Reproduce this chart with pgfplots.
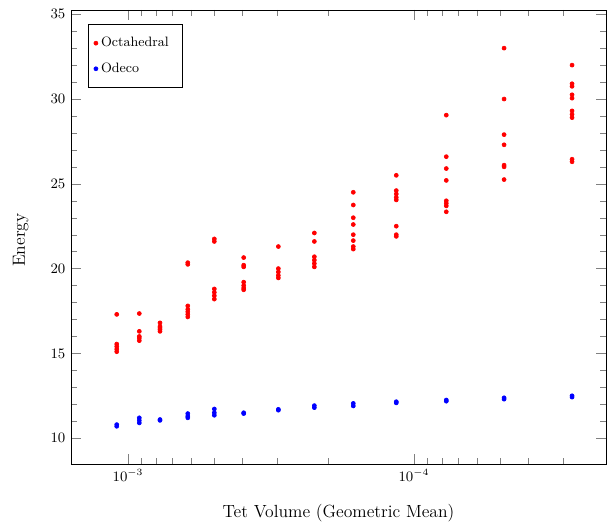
\documentclass[border=0pt]{standalone}
\usepackage{pgfplots}
\usepackage{pgfplotstable}
\pgfplotsset{compat=1.18}

\pgfplotstableread{
x y
1.095e-3 17.3
1.095e-3 15.55
1.095e-3 15.4
1.095e-3 15.25
1.095e-3 15.1
9.13e-4 17.35
9.13e-4 16.3
9.13e-4 16.0
9.13e-4 15.9
9.13e-4 15.75
7.73e-4 16.8
7.73e-4 16.6
7.73e-4 16.5
7.73e-4 16.4
7.73e-4 16.3
6.18e-4 20.35
6.18e-4 20.25
6.18e-4 17.8
6.18e-4 17.6
6.18e-4 17.45
6.18e-4 17.3
6.18e-4 17.15
4.99e-4 21.75
4.99e-4 21.6
4.99e-4 18.8
4.99e-4 18.6
4.99e-4 18.4
4.99e-4 18.2
3.94e-4 20.65
3.94e-4 20.2
3.94e-4 20.1
3.94e-4 19.2
3.94e-4 19.0
3.94e-4 18.85
3.94e-4 18.75
2.98e-4 21.3
2.98e-4 20.0
2.98e-4 19.8
2.98e-4 19.6
2.98e-4 19.45
2.23e-4 22.1
2.23e-4 21.6
2.23e-4 20.7
2.23e-4 20.5
2.23e-4 20.3
2.23e-4 20.1
1.63e-4 24.5
1.63e-4 23.75
1.63e-4 23.0
1.63e-4 22.6
1.63e-4 22.0
1.63e-4 21.65
1.63e-4 21.3
1.63e-4 21.15
1.153e-4 25.5
1.153e-4 24.6
1.153e-4 24.4
1.153e-4 24.2
1.153e-4 24.05
1.153e-4 22.5
1.153e-4 22.0
1.153e-4 21.9
7.71e-5 29.05
7.71e-5 26.6
7.71e-5 25.9
7.71e-5 25.2
7.71e-5 24.0
7.71e-5 23.85
7.71e-5 23.7
7.71e-5 23.35
4.84e-5 33.0
4.84e-5 30.0
4.84e-5 27.9
4.84e-5 27.3
4.84e-5 26.1
4.84e-5 26.0
4.84e-5 25.25
2.80e-5 32.0
2.80e-5 30.9
2.80e-5 30.75
2.80e-5 30.25
2.80e-5 30.05
2.80e-5 29.3
2.80e-5 29.1
2.80e-5 28.9
2.80e-5 26.45
2.80e-5 26.3
}\octa

\pgfplotstableread{
x y
1.095e-3 10.8
1.095e-3 10.7
9.13e-4 11.2
9.13e-4 11.05
9.13e-4 10.9
7.73e-4 11.1
7.73e-4 11.05
6.18e-4 11.45
6.18e-4 11.3
6.18e-4 11.2
4.99e-4 11.72
4.99e-4 11.5
4.99e-4 11.35
3.94e-4 11.5
3.94e-4 11.45
2.98e-4 11.7
2.98e-4 11.65
2.23e-4 11.92
2.23e-4 11.8
1.63e-4 12.05
1.63e-4 11.9
1.153e-4 12.15
1.153e-4 12.08
7.71e-5 12.25
7.71e-5 12.18
4.84e-5 12.38
4.84e-5 12.3
2.80e-5 12.5
2.80e-5 12.42
}\odeco

\begin{document}
\begin{tikzpicture}
\useasboundingbox (-44.4pt,-36.9pt) rectangle (335.65pt,290pt);
\begin{axis}[
  scale only axis,
  width=334.4pt, height=283.75pt,
  xmode=log, x dir=reverse,
  xmin=2.13e-5, xmax=1.582e-3,
  ymin=8.48, ymax=35.25,
  ytick={10,15,20,25,30,35},
  minor y tick num=4,
  major tick length=6pt, minor tick length=4pt,
  tick label style={font=\small},
  xlabel={Tet Volume (Geometric Mean)},
  ylabel={Energy},
  label style={font=\fontsize{11}{13}\selectfont},
  xlabel style={at={(axis description cs:0.5,0)}, anchor=center, yshift=-30.6pt},
  ylabel style={at={([xshift=-31.4pt,yshift=-2pt]axis description cs:0,0.5)}, anchor=center},
  legend style={at={(axis description cs:0,1)}, anchor=north west, xshift=10.6pt, yshift=-8.8pt,
    font=\fontsize{8.5}{10}\selectfont, row sep=8.5pt, inner xsep=3.5pt, inner ysep=8pt,
    nodes={inner xsep=2pt, inner ysep=0pt}},
  legend image code/.code={\draw[mark repeat=1] plot coordinates {(0pt,0pt)};},
  legend cell align=left,
]
\addplot[only marks, mark=*, mark size=1.25pt, color=red] table[x=x,y=y] {\octa};
\addlegendentry{Octahedral\kern 3pt\relax}
\addplot[only marks, mark=*, mark size=1.25pt, color=blue] table[x=x,y=y] {\odeco};
\addlegendentry{Odeco}
\end{axis}
\end{tikzpicture}
\end{document}
